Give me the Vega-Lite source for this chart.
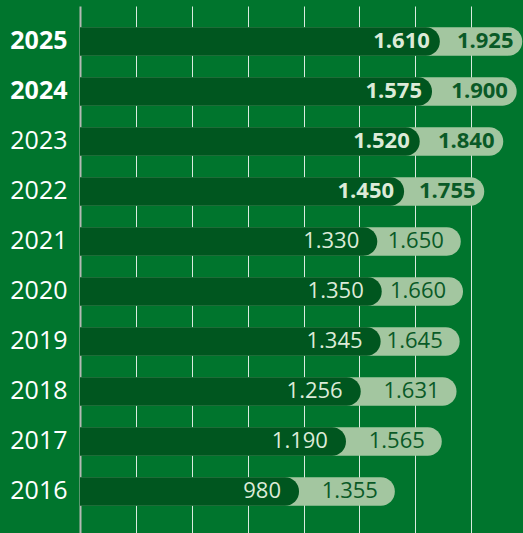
{
  "$schema": "https://vega.github.io/schema/vega-lite/v6.json",
  "width": 447,
  "height": 527,
  "autosize": "none",
  "padding": {"left": 80, "top": 6, "right": 0, "bottom": 0},
  "background": "#00752d",
  "config": {
    "view": {"stroke": null},
    "font": "Open Sans",
    "locale": {"number": {"decimal": ",", "thousands": ".", "grouping": [3], "currency": ["", " €"]}}
  },
  "data": {
    "values": [
      {"year": 2025, "price": 1610, "total": 1925},
      {"year": 2024, "price": 1575, "total": 1900},
      {"year": 2023, "price": 1520, "total": 1840},
      {"year": 2022, "price": 1450, "total": 1755},
      {"year": 2021, "price": 1330, "total": 1650},
      {"year": 2020, "price": 1350, "total": 1660},
      {"year": 2019, "price": 1345, "total": 1645},
      {"year": 2018, "price": 1256, "total": 1631},
      {"year": 2017, "price": 1190, "total": 1565},
      {"year": 2016, "price": 980, "total": 1355}
    ]
  },
  "encoding": {
    "y": {
      "field": "year",
      "type": "ordinal",
      "sort": "descending",
      "scale": {"paddingInner": 0.434, "paddingOuter": 0.487, "align": 0.438},
      "axis": {
        "title": null,
        "ticks": false,
        "grid": false,
        "domain": true,
        "domainColor": "#b4b9b4",
        "domainWidth": 2,
        "labelColor": "#ffffff",
        "labelFont": "Open Sans",
        "labelFontSize": 25,
        "labelPadding": 13,
        "labelFontWeight": {"condition": {"test": "datum.value >= 2024", "value": "bold"}, "value": "normal"}
      }
    }
  },
  "layer": [
    {
      "mark": {"type": "bar", "color": "#a3c6a0", "cornerRadiusTopRight": 14, "cornerRadiusBottomRight": 14, "xOffset": 12},
      "encoding": {
        "x": {
          "field": "total",
          "type": "quantitative",
          "scale": {"domain": [0, 2000], "nice": false},
          "axis": {
            "title": null,
            "labels": false,
            "ticks": false,
            "domain": false,
            "grid": true,
            "gridColor": "#ffffff",
            "gridOpacity": 0.85,
            "gridWidth": 1,
            "values": [250, 500, 750, 1000, 1250, 1500, 1750, 2000]
          }
        },
        "x2": {"datum": 0}
      }
    },
    {
      "mark": {"type": "bar", "color": "#00561f", "cornerRadiusTopRight": 14, "cornerRadiusBottomRight": 14},
      "encoding": {
        "x": {"field": "price", "type": "quantitative"},
        "x2": {"datum": 0}
      }
    },
    {
      "transform": [{"filter": "datum.year >= 2022"}],
      "mark": {"type": "text", "align": "right", "baseline": "middle", "dx": -10, "fontSize": 22, "fontWeight": "bold", "color": "#dcebd8"},
      "encoding": {
        "x": {"field": "price", "type": "quantitative"},
        "text": {"field": "price", "type": "quantitative", "format": ",d"}
      }
    },
    {
      "transform": [{"filter": "datum.year < 2022"}],
      "mark": {"type": "text", "align": "right", "baseline": "middle", "dx": -18, "fontSize": 22, "fontWeight": "normal", "color": "#dcebd8"},
      "encoding": {
        "x": {"field": "price", "type": "quantitative"},
        "text": {"field": "price", "type": "quantitative", "format": ",d"}
      }
    },
    {
      "transform": [{"filter": "datum.year >= 2022"}],
      "mark": {"type": "text", "align": "center", "baseline": "middle", "dx": -25, "fontSize": 22, "fontWeight": "bold", "color": "#0a5a27"},
      "encoding": {
        "x": {"field": "total", "type": "quantitative"},
        "text": {"field": "total", "type": "quantitative", "format": ",d"}
      }
    },
    {
      "transform": [{"filter": "datum.year < 2022"}],
      "mark": {"type": "text", "align": "center", "baseline": "middle", "dx": -33, "fontSize": 22, "fontWeight": "normal", "color": "#0a5a27"},
      "encoding": {
        "x": {"field": "total", "type": "quantitative"},
        "text": {"field": "total", "type": "quantitative", "format": ",d"}
      }
    }
  ]
}
